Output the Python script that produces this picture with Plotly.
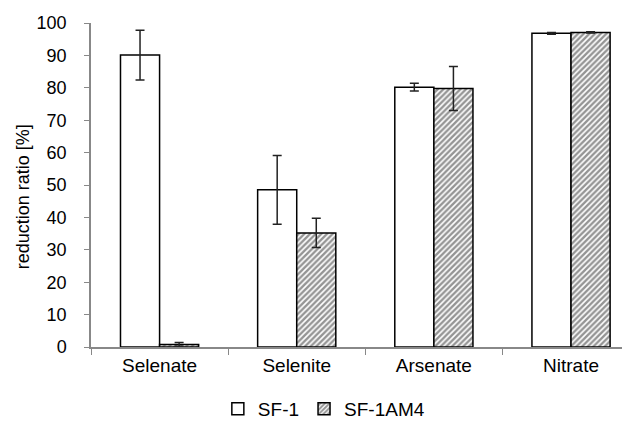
import plotly.graph_objects as go

categories = ["Selenate", "Selenite", "Arsenate", "Nitrate"]
sf1 = [90.1, 48.5, 80.2, 96.8]
sf1_err = [7.7, 10.6, 1.2, 0.3]
sf1am4 = [0.8, 35.2, 79.8, 97.1]
sf1am4_err = [0.6, 4.5, 6.8, 0.2]
y_ticks = [0, 10, 20, 30, 40, 50, 60, 70, 80, 90, 100]

font = "Liberation Sans, Arial, sans-serif"

fig = go.Figure()
fig.add_trace(go.Bar(
    name="SF-1", x=categories, y=sf1,
    marker=dict(color="white", line=dict(color="black", width=1.5)),
    error_y=dict(type="data", array=sf1_err, color="#222222", thickness=1.5, width=4.5),
))
fig.add_trace(go.Bar(
    name="SF-1AM4", x=categories, y=sf1am4,
    marker=dict(color="white", line=dict(color="black", width=1.5),
                pattern=dict(shape="/", fgcolor="#2a2a2a", bgcolor="white", size=4, solidity=0.6)),
    error_y=dict(type="data", array=sf1am4_err, color="#222222", thickness=1.5, width=4.5),
))

fig.add_annotation(
    text="reduction ratio [%]", xref="paper", yref="paper", x=-0.1262, y=0.465,
    xanchor="center", yanchor="middle", textangle=-90, showarrow=False,
    font=dict(size=18, color="black"),
)

fig.update_layout(
    width=622, height=420,
    margin=dict(l=83, r=0, t=15, b=80),
    paper_bgcolor="white", plot_bgcolor="white",
    barmode="group", bargap=0.43, bargroupgap=0,
    font=dict(family=font, size=18, color="black"),
    showlegend=True,
    legend=dict(orientation="h", x=0.432, xanchor="center", y=-0.19, yanchor="middle",
                font=dict(size=19), itemwidth=30, traceorder="normal"),
    xaxis=dict(
        range=[-0.5, 3.43], showline=True, linecolor="#888888", linewidth=1.5,
        ticks="outside", tickson="boundaries", ticklen=6, tickcolor="#888888",
        showgrid=False, tickfont=dict(size=19), automargin=False,
    ),
    yaxis=dict(
        range=[0, 100], tickvals=y_ticks, showline=True, linecolor="#888888", linewidth=1.5,
        ticks="outside", ticklen=5, tickcolor="#888888", showgrid=False, zeroline=False,
        tickfont=dict(size=18), ticklabelstandoff=14, automargin=False,
    ),
)

fig.write_html("out.html")
